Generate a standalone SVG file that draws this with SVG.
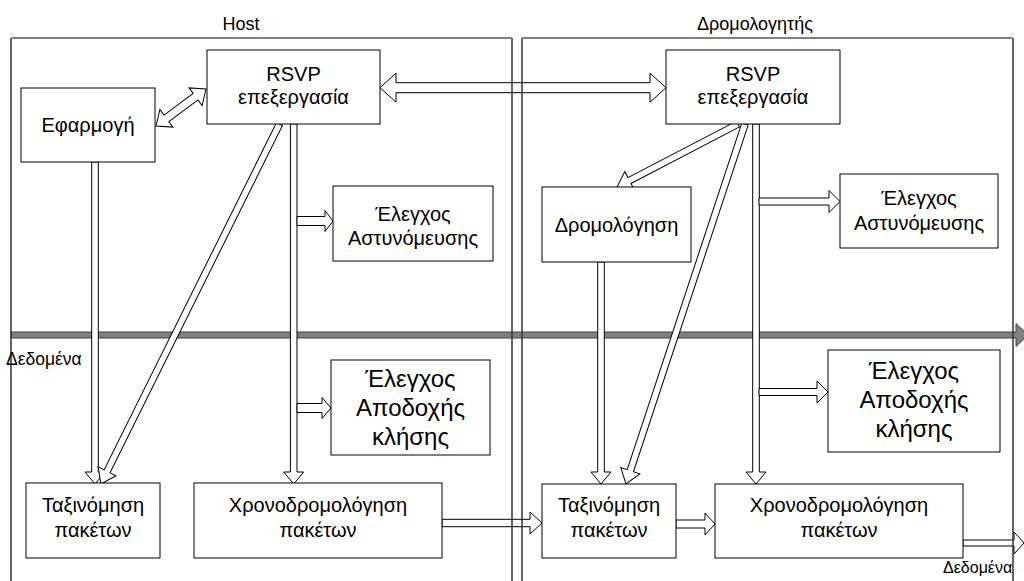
<svg xmlns="http://www.w3.org/2000/svg" width="1024" height="581" viewBox="0 0 1024 581">
  <style>
    .box { fill: #fff; stroke: #000; stroke-width: 1; }
    .arr { fill: #fff; stroke: #000; stroke-width: 1; stroke-linejoin: miter; }
    .data { fill: #808080; stroke: #404040; stroke-width: 1; }
    .frame-top { fill: none; stroke: #808080; stroke-width: 2; }
    .frame-side { fill: none; stroke: #333; stroke-width: 1.5; }
    .t { font-family: "Liberation Sans", Arial, sans-serif; font-size: 20px; text-anchor: middle; fill: #000; }
    .big { font-size: 24px; }
    .hdr { font-size: 18px; }
    .lbl { font-family: "Liberation Sans", Arial, sans-serif; font-size: 17.5px; fill: #000; }
  </style>
  <rect width="1024" height="581" fill="#fff"/>

  <!-- data path across both devices -->
  <g id="data-flow">
    <polygon class="data" points="11,332 1016,332 1016,323.5 1028,335 1016,346.5 1016,338 11,338"/>
  </g>

  <!-- hollow block arrows -->
  <g id="connectors">
    <!-- application <-> RSVP (host) -->
    <polygon class="arr" transform="translate(156,126) rotate(-36.5)" points="0,0 13,-11 13,-4 49.2,-4 49.2,-11 62.2,0 49.2,11 49.2,4 13,4 13,11"/>
    <!-- RSVP host <-> RSVP router -->
    <polygon class="arr" points="380,87.7 396,73.2 396,82.7 650,82.7 650,73.2 666,87.7 650,102.2 650,92.7 396,92.7 396,102.2"/>
    <!-- application -> classifier (host) -->
    <polygon class="arr" points="91.7,162 98.3,162 98.3,472 105,472 95,484 85,472 91.7,472"/>
    <!-- RSVP host -> classifier (host) -->
    <polygon class="arr" transform="translate(279.5,124) rotate(116.4)" points="0,-3.3 387.8,-3.3 387.8,-10 401.8,0 387.8,10 387.8,3.3 0,3.3"/>
    <!-- RSVP host -> scheduler (host) -->
    <polygon class="arr" points="290.4,124 297,124 297,472 303.7,472 293.7,484 283.7,472 290.4,472"/>
    <!-- RSVP host -> policing / admission (host) -->
    <polygon class="arr" points="297,216.5 325,216.5 325,210.5 333,221 325,231.5 325,225.5 297,225.5"/>
    <polygon class="arr" points="297,403.5 322,403.5 322,397.5 331,408 322,418.5 322,412.5 297,412.5"/>
    <!-- scheduler (host) -> classifier (router) -->
    <polygon class="arr" points="442,519.3 530,519.3 530,512 542,523 530,534 530,526.7 442,526.7"/>
    <!-- RSVP router -> routing -->
    <polygon class="arr" transform="translate(738,124) rotate(152.5)" points="0,-3.3 122.4,-3.3 122.4,-10 136.4,0 122.4,10 122.4,3.3 0,3.3"/>
    <!-- RSVP router -> classifier (router) -->
    <polygon class="arr" transform="translate(745,124) rotate(108.3)" points="0,-3.3 365.2,-3.3 365.2,-10 379.2,0 365.2,10 365.2,3.3 0,3.3"/>
    <!-- routing -> classifier (router) -->
    <polygon class="arr" points="597.7,262 604.3,262 604.3,472 611,472 601,484 591,472 597.7,472"/>
    <!-- RSVP router -> scheduler (router) -->
    <polygon class="arr" points="752.7,124 759.3,124 759.3,472 766,472 756,484 746,472 752.7,472"/>
    <!-- RSVP router -> policing / admission (router) -->
    <polygon class="arr" points="759,198 829,198 829,190.5 840,201.5 829,212.5 829,205 759,205"/>
    <polygon class="arr" points="759,388.5 817,388.5 817,381 828,392 817,403 817,395.5 759,395.5"/>
    <!-- classifier (router) -> scheduler (router) -->
    <polygon class="arr" points="676,520 705,520 705,513 715,524 705,535 705,528 676,528"/>
    <!-- scheduler (router) -> out -->
    <polygon class="arr" points="963,540 1014,540 1014,532 1024,543 1014,554 1014,546 963,546"/>
  </g>

  <!-- Host nodes -->
  <g id="host-app">
    <rect class="box" x="21" y="88" width="134" height="74"/>
    <text class="t" x="88" y="132">Εφαρμογή</text>
  </g>
  <g id="host-rsvp">
    <rect class="box" x="207" y="50" width="173" height="74"/>
    <text class="t" x="293.5" y="81">RSVP</text>
    <text class="t" x="293.5" y="104">επεξεργασία</text>
  </g>
  <g id="host-policing">
    <rect class="box" x="333" y="186" width="160" height="75"/>
    <text class="t" x="413" y="221">Έλεγχος</text>
    <text class="t" x="413" y="245">Αστυνόμευσης</text>
  </g>
  <g id="host-admission">
    <rect class="box" x="331" y="360" width="159" height="95"/>
    <text class="t big" x="410.5" y="387">Έλεγχος</text>
    <text class="t big" x="410.5" y="416">Αποδοχής</text>
    <text class="t big" x="410.5" y="445">κλήσης</text>
  </g>
  <g id="host-classifier">
    <rect class="box" x="26" y="483" width="134" height="75"/>
    <text class="t" x="93" y="512">Ταξινόμηση</text>
    <text class="t" x="93" y="537">πακέτων</text>
  </g>
  <g id="host-scheduler">
    <rect class="box" x="194" y="483" width="248" height="75"/>
    <text class="t" x="318" y="512">Χρονοδρομολόγηση</text>
    <text class="t" x="318" y="537">πακέτων</text>
  </g>

  <!-- Router nodes -->
  <g id="router-rsvp">
    <rect class="box" x="666" y="50" width="174" height="74"/>
    <text class="t" x="753" y="81">RSVP</text>
    <text class="t" x="753" y="104">επεξεργασία</text>
  </g>
  <g id="router-routing">
    <rect class="box" x="542" y="187" width="149" height="75"/>
    <text class="t" x="616.5" y="232">Δρομολόγηση</text>
  </g>
  <g id="router-policing">
    <rect class="box" x="840" y="174" width="158" height="74"/>
    <text class="t" x="919" y="205">Έλεγχος</text>
    <text class="t" x="919" y="230">Αστυνόμευσης</text>
  </g>
  <g id="router-admission">
    <rect class="box" x="828" y="350" width="172" height="102"/>
    <text class="t big" x="914" y="379">Έλεγχος</text>
    <text class="t big" x="914" y="408">Αποδοχής</text>
    <text class="t big" x="914" y="437">κλήσης</text>
  </g>
  <g id="router-classifier">
    <rect class="box" x="542" y="484" width="134" height="74"/>
    <text class="t" x="609" y="512">Ταξινόμηση</text>
    <text class="t" x="609" y="537">πακέτων</text>
  </g>
  <g id="router-scheduler">
    <rect class="box" x="715" y="484" width="248" height="74"/>
    <text class="t" x="839" y="512">Χρονοδρομολόγηση</text>
    <text class="t" x="839" y="537">πακέτων</text>
  </g>

  <!-- device frames -->
  <g id="frames">
    <path class="frame-side" d="M11,581 V38 M512,38 V581 M522,581 V38 M1013,38 V581"/>
    <path class="frame-top" d="M11,38 H512 M522,38 H1013"/>
    <text class="t hdr" x="241" y="30">Host</text>
    <text class="t hdr" x="755" y="30">Δρομολογητής</text>
  </g>

  <g id="labels">
    <text class="lbl" x="6" y="365">Δεδομένα</text>
    <text class="lbl" x="943" y="573" style="font-size:16px">Δεδομένα</text>
  </g>
</svg>
